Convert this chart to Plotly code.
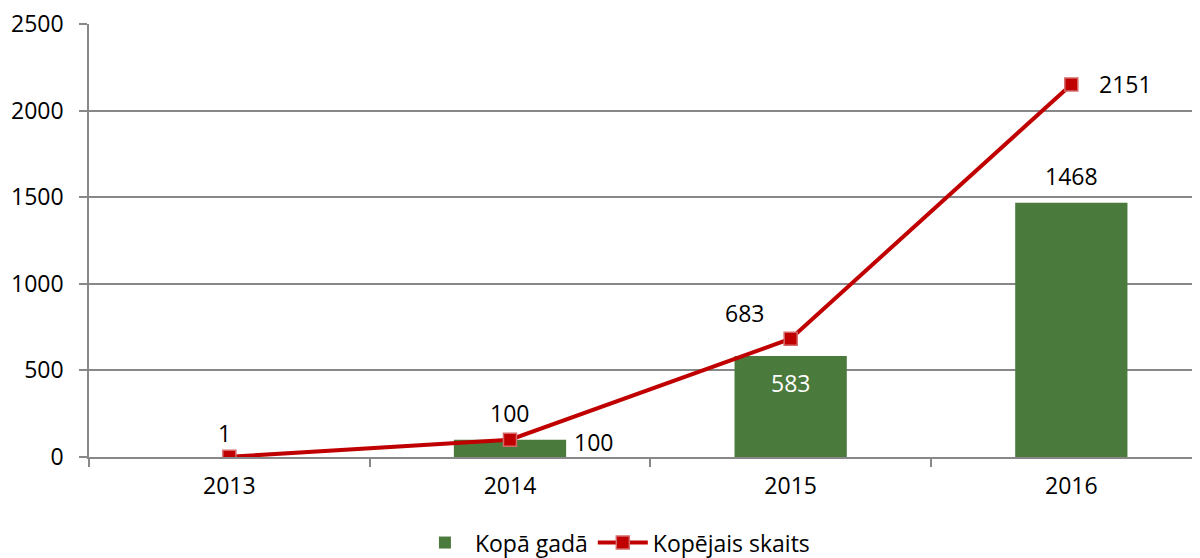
import plotly.graph_objects as go

years = ["2013", "2014", "2015", "2016"]
bar_name = "Kopā gadā"
line_name = "Kopējais skaits"
per_year = [None, 100, 583, 1468]
cumulative = [1, 100, 683, 2151]
y_ticks = [0, 500, 1000, 1500, 2000, 2500]

FONT = "Open Sans"
FS = 23
GREEN = "#4B7A3D"
RED = "#C00000"
GRID = "#888888"

fig = go.Figure()
fig.add_trace(go.Bar(
    x=years, y=per_year, name=bar_name,
    marker=dict(color=GREEN, line=dict(width=0)),
    width=0.4,
))
fig.add_trace(go.Scatter(
    x=years, y=cumulative, name=line_name, mode="lines+markers",
    line=dict(color=RED, width=4),
    marker=dict(symbol="square", size=13, color=RED,
                line=dict(color="#D46A6A", width=1.5)),
))

# data labels for the cumulative line (x given as category index)
line_offsets = [(-5, 24), (0, 27), (-46, 26), (54, 0)]
for i, (v, (dx, dy)) in enumerate(zip(cumulative, line_offsets)):
    fig.add_annotation(x=i, y=v, xref="x", yref="y", text=str(v), showarrow=False,
                       xshift=dx, yshift=dy,
                       font=dict(family=FONT, size=FS, color="#000000"))

# data labels for the bars
bar_offsets = [None, (84, -2), (0, -27), (0, 27)]
bar_colors = [None, "#000000", "#FFFFFF", "#000000"]
for i, (v, off, c) in enumerate(zip(per_year, bar_offsets, bar_colors)):
    if v is None:
        continue
    fig.add_annotation(x=i, y=v, xref="x", yref="y", text=str(v), showarrow=False,
                       xshift=off[0], yshift=off[1],
                       font=dict(family=FONT, size=FS, color=c))

fig.update_layout(
    width=1200, height=558,
    margin=dict(l=81, r=0, t=16, b=109, autoexpand=False),
    paper_bgcolor="white", plot_bgcolor="white",
    font=dict(family=FONT, size=FS, color="#000000"),
    showlegend=True,
    legend=dict(orientation="h", x=0.47, xanchor="center", y=-0.148, yanchor="top",
                font=dict(family=FONT, size=FS), itemwidth=50,
                tracegroupgap=0, bgcolor="rgba(0,0,0,0)"),
    xaxis=dict(
        type="category", range=[-0.5, 3.487],
        showgrid=False, showline=True, linecolor=GRID, linewidth=1.5,
        ticks="outside", tickson="boundaries", ticklen=8, tickcolor=GRID,
        tickwidth=1.5, ticklabelstandoff=8,
        tickfont=dict(family=FONT, size=FS),
    ),
    yaxis=dict(
        range=[0, 2500], tickvals=y_ticks,
        showgrid=True, gridcolor=GRID, gridwidth=1.5,
        showline=True, linecolor=GRID, linewidth=1.5,
        ticks="outside", ticklen=8, tickcolor=GRID, tickwidth=1.5,
        ticklabelstandoff=11, zeroline=False, ticklabeloverflow="allow",
        tickfont=dict(family=FONT, size=FS),
    ),
)

fig.write_html("out.html")
